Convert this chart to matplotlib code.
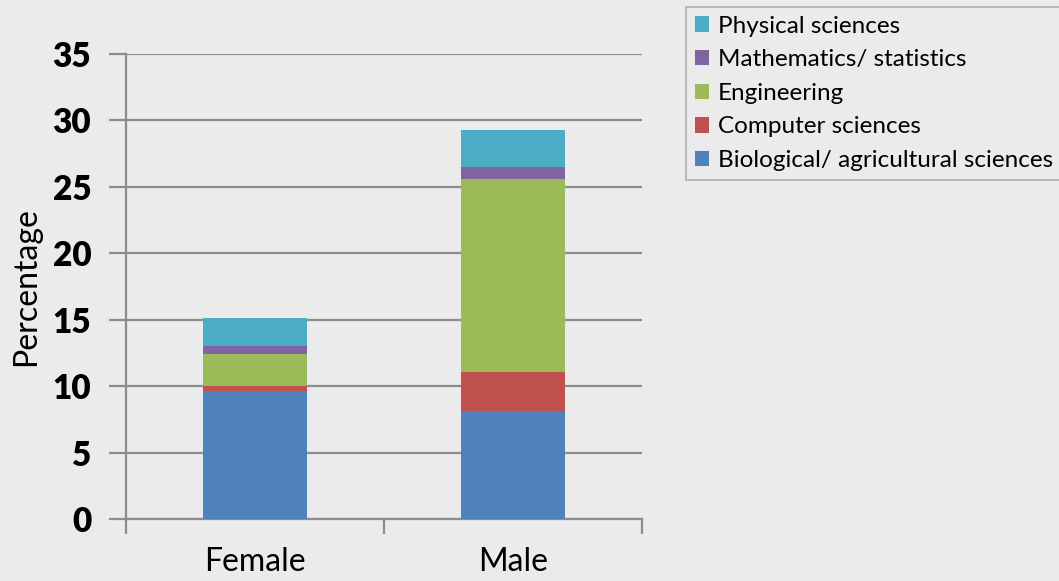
import matplotlib.pyplot as plt
from matplotlib.patches import Patch
import numpy as np

groups = ['Female', 'Male']
fields = ['Biological/ agricultural sciences', 'Computer sciences', 'Engineering',
          'Mathematics/ statistics', 'Physical sciences']
bio = [9.6, 8.1]
computer = [0.4, 3.0]
engineering = [2.45, 14.5]
maths = [0.6, 0.9]
physical = [2.05, 2.8]
colors = ['#4F81BD', '#C0504D', '#9BBB59', '#8064A2', '#4BACC6']

plt.rcParams['font.family'] = ['Lato', 'DejaVu Sans']
bg = '#EBEBEB'
grid_col = '#8C8C8C'

fig = plt.figure(figsize=(10.59, 5.81), dpi=100, facecolor=bg)
ax = fig.add_axes([126 / 1059, 62 / 581, 516 / 1059, 465 / 581])
ax.set_facecolor(bg)

x = np.arange(len(groups))
bottom = np.zeros(len(groups))
for vals, col in zip([bio, computer, engineering, maths, physical], colors):
    ax.bar(x, vals, width=0.4, bottom=bottom, color=col, zorder=3)
    bottom += np.array(vals)

ax.set_xlim(-0.5, 1.5)
ax.set_ylim(0, 35)
ax.set_yticks(range(0, 36, 5))
ax.yaxis.grid(True, color=grid_col, linewidth=1.6, zorder=0)
for s in ['top', 'right']:
    ax.spines[s].set_visible(False)
for s in ['left', 'bottom']:
    ax.spines[s].set_color(grid_col)
    ax.spines[s].set_linewidth(1.6)

ax.tick_params(axis='y', length=12, width=1.6, color=grid_col, pad=13,
               labelsize=24)
for lbl in ax.get_yticklabels():
    lbl.set_fontweight('heavy')

# category labels centered, boundary ticks drawn as minor ticks
ax.set_xticks(x)
ax.set_xticklabels(groups, fontsize=23)
ax.tick_params(axis='x', which='major', length=0, pad=20)
ax.set_xticks([-0.5, 0.5, 1.5], minor=True)
ax.tick_params(axis='x', which='minor', length=11, width=1.6, color=grid_col)

ax.set_ylabel('Percentage', fontsize=23)
ax.yaxis.set_label_coords(-0.165, 0.5)

handles = [Patch(facecolor=c, edgecolor='none') for c in colors][::-1]
leg = fig.legend(handles, fields[::-1], loc='upper left',
                 bbox_to_anchor=(686 / 1059, 1 - 7 / 581), fontsize=17.5,
                 frameon=True, fancybox=False, handlelength=0.6, handleheight=0.6,
                 handletextpad=0.35, labelspacing=0.52, borderpad=0.35,
                 borderaxespad=0)
leg.get_frame().set_edgecolor('#A0A0A0')
leg.get_frame().set_facecolor(bg)
leg.get_frame().set_linewidth(1.2)

fig.savefig('out.png', dpi=100, facecolor=bg)
